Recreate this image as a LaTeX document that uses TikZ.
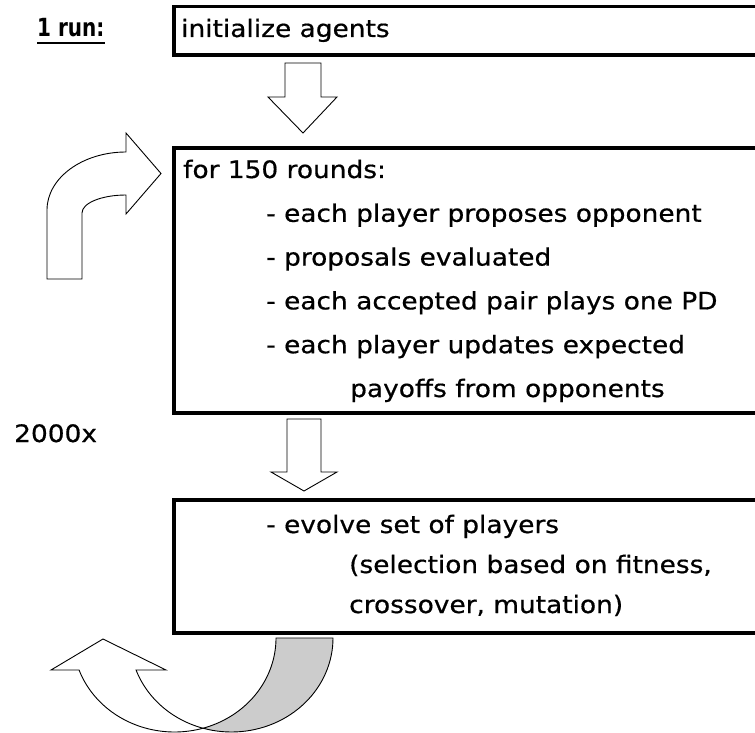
\documentclass[tikz,border=0pt]{standalone}
\usepackage{fontspec}
\setmainfont[FakeStretch=1.1,FakeBold=0.6]{DejaVu Sans}
\newfontfamily\runfont[FakeStretch=0.8]{DejaVu Sans}
\begin{document}
\begin{tikzpicture}[x=1pt,y=-1pt,
  txt/.style={inner sep=0pt, anchor=base west, font=\fontsize{24}{28}\selectfont},
  boxframe/.style={draw=black, line width=3.2pt, rectangle, inner sep=0pt, outer sep=0pt, anchor=north west, minimum width=606pt},
  blockarrow/.style={draw=black, line width=0.9pt, fill=white, line join=miter},
  backface/.style={blockarrow, fill=gray!40}
]
\useasboundingbox (0,0) rectangle (755,733);
\clip (0,0) rectangle (755,733);

% boxes
\node[boxframe, minimum height=48.5pt] (b1) at (174,6.5) {};
\node[boxframe, minimum height=265pt] (b2) at (174,148) {};
\node[boxframe, minimum height=133pt] (b3) at (174,500) {};

% left labels
\node[txt, font=\fontsize{25}{30}\runfont\bfseries] (run) at (37,37) {1 run:};
\draw[line width=2.4pt] ([yshift=-6pt]run.base west) -- ([yshift=-6pt]run.base east);
\node[txt] (times) at (14,442) {2000x};

% box texts
\node[txt] (t1) at (181,37) {initialize agents};
\node[txt] (r1) at (183,178) {for 150 rounds:};
\node[txt] (r2) at (266,221.8) {- each player proposes opponent};
\node[txt] (r3) at (266,265.6) {- proposals evaluated};
\node[txt] (r4) at (266,309.4) {- each accepted pair plays one PD};
\node[txt] (r5) at (266,353.2) {- each player updates expected};
\node[txt] (r6) at (350,397) {payoffs from opponents};
\node[txt] (e1) at (266,533) {- evolve set of players};
\node[txt] (e2) at (349,573) {(selection based on fitness,};
\node[txt] (e3) at (349,613) {crossover, mutation)};

% down block arrows
\draw[blockarrow] (285,63) -- (321,63) -- (321,97) -- (337,97) -- (303,133) -- (268,97) -- (285,97) -- cycle;
\draw[blockarrow] (287,419) -- (321,419) -- (321,472) -- (337,472) -- (304,491) -- (271,472) -- (287,472) -- cycle;

% bent arrow (loop back)
\draw[blockarrow] (47,279) -- (47,210) .. controls (47,178) and (82.4,152) .. (126,152)
  -- (126,133) -- (161,173.5) -- (126,214) -- (126,195)
  .. controls (101.7,195) and (82,203) .. (82,213) -- (82,279) -- cycle;

% curved up arrow at bottom
\draw[backface] plot[domain=0:73.7, samples=40] ({174.5+101.5*cos(\x)},{638+94*sin(\x)})
  -- plot[domain=106.3:0, samples=40] ({231.5+101.5*cos(\x)},{638+94*sin(\x)}) -- cycle;
\draw[blockarrow] plot[domain=73.7:160.1, samples=50] ({174.5+101.5*cos(\x)},{638+94*sin(\x)})
  -- (51,670) -- (103,639) -- (166,670)
  -- plot[domain=160.1:106.3, samples=50] ({231.5+101.5*cos(\x)},{638+94*sin(\x)}) -- cycle;
\end{tikzpicture}
\end{document}
